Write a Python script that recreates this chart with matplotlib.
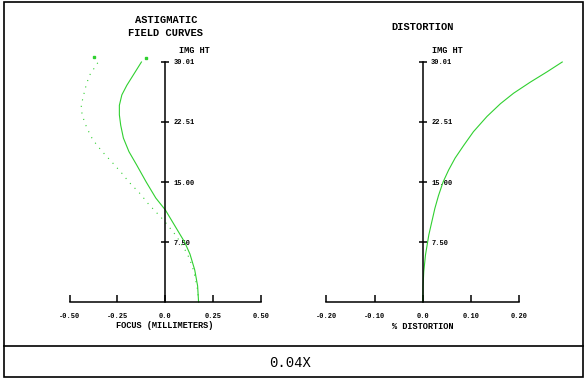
import matplotlib.pyplot as plt
from matplotlib.patches import Rectangle
from matplotlib.lines import Line2D

W, H = 588, 382

# astigmatic field curves, solid curve (img ht, focus mm)
ht_solid = [0.0, 2.0, 4.0, 6.0, 7.5, 9.5, 11.5, 13.0, 15.0, 17.1, 18.8, 20.5, 22.1, 23.4,
            24.6, 25.9, 27.1, 28.4, 30.01]
focus_solid = [0.173, 0.168, 0.153, 0.128, 0.100, 0.050, 0.000, -0.050, -0.100, -0.149,
               -0.190, -0.219, -0.233, -0.240, -0.240, -0.227, -0.201, -0.167, -0.125]

# dotted curve
ht_dot = [0.0, 1.5, 3.2, 4.5, 6.1, 7.5, 8.2, 10.25, 12.3, 13.5, 15.0, 16.1, 17.5, 18.4, 19.6,
          20.5, 21.5, 22.5, 23.6, 24.6, 26.7, 28.3, 30.01]
focus_dot = [0.173, 0.168, 0.154, 0.140, 0.113, 0.076, 0.059, -0.010, -0.090, -0.130, -0.190,
             -0.227, -0.279, -0.314, -0.357, -0.383, -0.404, -0.422, -0.435, -0.439, -0.418,
             -0.397, -0.350]

# distortion (img ht, %)
ht_dist = [0.0, 2.0, 3.8, 5.9, 8.4, 11.7, 13.3, 15.0, 16.5, 18.0, 19.6, 21.3, 23.2, 24.8, 26.1,
           27.5, 28.8, 30.01]
distortion = [0.0, 0.0005, 0.002, 0.0056, 0.0125, 0.025, 0.0325, 0.042, 0.0535, 0.067, 0.085,
              0.105, 0.133, 0.161, 0.188, 0.223, 0.258, 0.289]

y_ticks = [7.5, 15.0, 22.51, 30.01]
y_labels = ['7.50', '15.00', '22.51', '30.01']
focus_ticks = [-0.5, -0.25, 0.0, 0.25, 0.5]
focus_labels = ['-0.50', '-0.25', '0.0', '0.25', '0.50']
dist_ticks = [-0.2, -0.1, 0.0, 0.1, 0.2]
dist_labels = ['-0.20', '-0.10', '0.0', '0.10', '0.20']

green = '#30d030'
mono = 'Liberation Mono'

fig = plt.figure(figsize=(W / 100, H / 100), dpi=100)


def px_axes(x0, x1, y0, y1):
    return fig.add_axes([x0 / W, 1 - y1 / H, (x1 - x0) / W, (y1 - y0) / H])


def style_axis(ax, xticks, xlabels):
    ax.patch.set_alpha(0)
    ax.spines['top'].set_visible(False)
    ax.spines['left'].set_visible(False)
    ax.spines['right'].set_position(('data', 0))
    ax.spines['right'].set_linewidth(1.1)
    ax.spines['bottom'].set_linewidth(1.1)
    ax.yaxis.set_ticks_position('right')
    ax.set_yticks(y_ticks)
    ax.set_yticklabels(y_labels, fontfamily=mono, fontweight='bold', fontsize=5)
    ax.tick_params(axis='y', direction='inout', length=6, width=1.1, pad=3)
    ax.set_xticks(xticks)
    ax.set_xticklabels(xlabels, fontfamily=mono, fontweight='bold', fontsize=5)
    ax.tick_params(axis='x', direction='in', length=5, width=1.1, pad=8)


ax1 = px_axes(69.5, 261.3, 62, 302)
ax1.set_xlim(-0.5, 0.5)
ax1.set_ylim(0, 30.01)
style_axis(ax1, focus_ticks, focus_labels)
ax1.plot(focus_solid, ht_solid, color=green, lw=0.8, clip_on=False)
ax1.plot(focus_dot, ht_dot, color=green, lw=0.8, ls=(0, (1, 5)), clip_on=False)
ax1.plot([-0.10], [30.45], 's', color=green, ms=2, clip_on=False)
ax1.plot([-0.374], [30.6], 's', color=green, ms=2, clip_on=False)

ax2 = px_axes(326.3, 519.3, 62, 302)
ax2.set_xlim(-0.2, 0.2)
ax2.set_ylim(0, 30.01)
style_axis(ax2, dist_ticks, dist_labels)
ax2.plot(distortion, ht_dist, color=green, lw=0.8, clip_on=False)

# text
def ftext(x, y, s, size, weight='bold'):
    fig.text(x / W, 1 - y / H, s, ha='center', va='center', fontsize=size,
             fontfamily=mono, fontweight=weight)

ftext(166, 20, 'ASTIGMATIC', 7.5)
ftext(166, 33, 'FIELD CURVES', 7.5)
ftext(194, 50.5, 'IMG HT', 6.2)
ftext(165, 326, 'FOCUS (MILLIMETERS)', 6.2)
ftext(423, 27, 'DISTORTION', 7.5)
ftext(447, 50.5, 'IMG HT', 6.2)
ftext(422.5, 326.5, '% DISTORTION', 6.2)
ftext(290, 363, '0.04X', 10, weight='normal')

# frame
fig.add_artist(Rectangle((4 / W, 1 - 377 / H), 579 / W, 375 / H, transform=fig.transFigure,
                         fill=False, ec='black', lw=1.2))
fig.add_artist(Line2D([4 / W, 583 / W], [1 - 346 / H, 1 - 346 / H], transform=fig.transFigure,
                      color='black', lw=1.2))

fig.savefig('out.png', dpi=100)
